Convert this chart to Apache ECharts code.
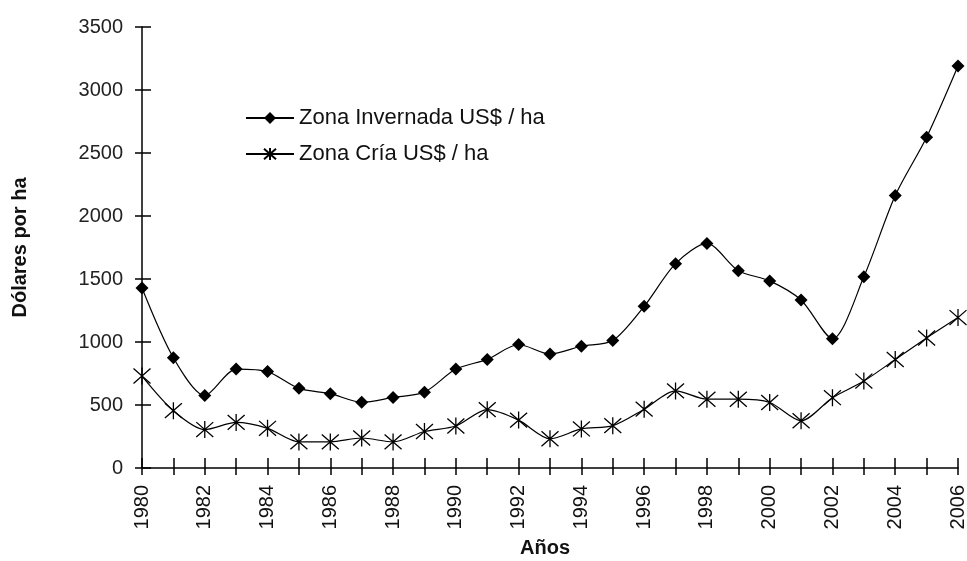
<!DOCTYPE html>
<html>
<head>
<meta charset="utf-8">
<script src="https://cdn.jsdelivr.net/npm/echarts@6/dist/echarts.min.js"></script>
<style>
html,body{margin:0;padding:0;background:#fff;}
#main{width:967px;height:561px;}
</style>
</head>
<body>
<div id="main"></div>
<script>
var years = ['1980','1981','1982','1983','1984','1985','1986','1987','1988','1989','1990','1991','1992','1993',
    '1994','1995','1996','1997','1998','1999','2000','2001','2002','2003','2004','2005','2006'];
// Zona Invernada US$ / ha
var invernada = [1428,875,575,785,765,632,590,522,560,602,785,862,980,905,
    966,1011,1283,1622,1782,1566,1485,1333,1026,1517,2162,2625,3190];
// Zona Cría US$ / ha
var cria = [730,455,305,362,315,207,207,238,207,290,333,463,380,232,
    310,336,467,612,546,546,520,375,558,690,861,1032,1194];
var yTicks = [0,500,1000,1500,2000,2500,3000,3500];

var fontFam = '"Liberation Sans", Arial, sans-serif';
var star = 'path://M0,-8L0,8M-7,-7L7,7M-7,7L7,-7';

var myChart = echarts.init(document.getElementById('main'));
var option = {
    backgroundColor: '#fff',
    animation: false,
    textStyle: {fontFamily: fontFam},
    grid: {left: 142, right: 9, top: 27, bottom: 93, containLabel: false, outerBoundsMode: 'none'},
    legend: {
        orient: 'vertical',
        left: 245,
        top: 107,
        padding: 0,
        itemWidth: 48,
        itemHeight: 15,
        itemGap: 14,
        textStyle: {fontSize: 22, color: '#111', fontFamily: fontFam},
        data: ['Zona Invernada US$ / ha', 'Zona Cría US$ / ha']
    },
    xAxis: [{
        type: 'category',
        data: years,
        boundaryGap: false,
        name: 'Años',
        nameLocation: 'middle',
        nameGap: 70,
        nameTextStyle: {fontSize: 20, fontWeight: 'bold', color: '#111', fontFamily: fontFam, padding: [0, 10, 0, 0]},
        axisLine: {lineStyle: {color: '#000', width: 1.5}},
        axisTick: {show: true, inside: true, length: 10, interval: 0, lineStyle: {color: '#000', width: 1.5}},
        axisLabel: {interval: 1, rotate: 90, fontSize: 20, color: '#111', margin: 17, fontFamily: fontFam},
        splitLine: {show: false}
    }, {
        type: 'category',
        data: years,
        boundaryGap: false,
        position: 'bottom',
        axisLine: {show: false},
        axisTick: {show: true, inside: false, length: 7, interval: 0, lineStyle: {color: '#000', width: 1.5}},
        axisLabel: {show: false},
        splitLine: {show: false}
    }],
    yAxis: [{
        type: 'value',
        min: 0,
        max: 3500,
        interval: 500,
        name: 'Dólares por ha',
        nameLocation: 'middle',
        nameGap: 112,
        nameTextStyle: {fontSize: 20, fontWeight: 'bold', color: '#111', fontFamily: fontFam},
        axisLine: {show: true, lineStyle: {color: '#000', width: 1.5}},
        axisTick: {show: true, inside: false, length: 7, lineStyle: {color: '#000', width: 1.5}},
        axisLabel: {fontSize: 20, color: '#222', margin: 19, fontFamily: fontFam,
            formatter: function (v) { return yTicks.indexOf(v) >= 0 ? String(v) : ''; }},
        splitLine: {show: false}
    }, {
        type: 'value',
        min: 0,
        max: 3500,
        interval: 500,
        position: 'left',
        axisLine: {show: false},
        axisTick: {show: true, inside: true, length: 9, lineStyle: {color: '#000', width: 1.5}},
        axisLabel: {show: false},
        splitLine: {show: false}
    }],
    series: [{
        name: 'Zona Invernada US$ / ha',
        type: 'line',
        data: invernada,
        smooth: 0.28,
        symbol: 'diamond',
        symbolSize: 13,
        lineStyle: {color: '#000', width: 1.2},
        itemStyle: {color: '#000'}
    }, {
        name: 'Zona Cría US$ / ha',
        type: 'line',
        data: cria,
        smooth: 0.28,
        symbol: star,
        symbolSize: 17,
        lineStyle: {color: '#000', width: 1.2},
        itemStyle: {color: 'none', borderColor: '#000', borderWidth: 1.3}
    }]
};
myChart.setOption(option);
</script>
</body>
</html>
